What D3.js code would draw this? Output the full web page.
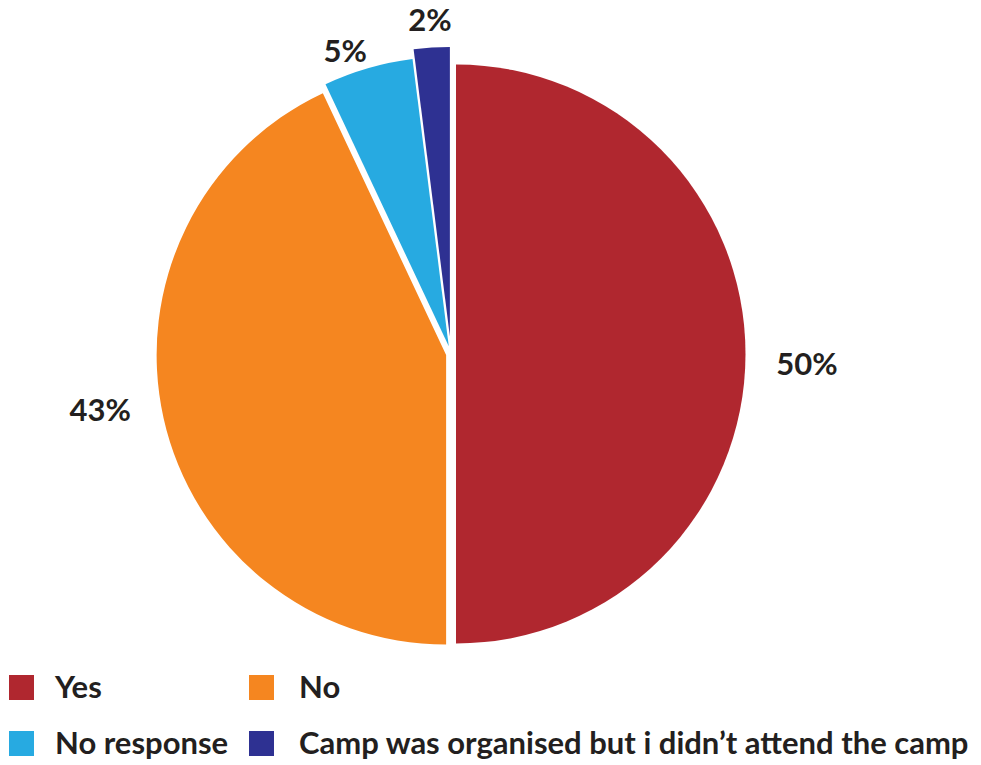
<!DOCTYPE html>
<meta charset="utf-8">
<script src="https://d3js.org/d3.v7.min.js"></script>
<style>
    body { margin: 0; background: #fff; }
    text { font-family: Lato, "Open Sans", sans-serif; font-weight: bold; fill: #231F20; }
</style>
<svg width="981" height="765"></svg>
<script>

    const categories = ["Yes", "No", "No response", "Camp was organised but i didn\u2019t attend the camp"];
    const values = [50, 43, 5, 2];
    const percentLabels = ["50%", "43%", "5%", "2%"];
    const colors = ["#B0272F", "#F58620", "#27AAE1", "#2E3192"];

    // how far each slice is pulled out from the middle
    const explode = [5, 5, 8, 17.5];
    // label placement: distance from the middle and a small turn off the slice's mid angle (degrees)
    const labelRadius = [356, 355, 322, 336];
    const labelTurn = [1.5, 3.7, -3, 0];

    function pie_chart() {
        const width = 981,
            height = 765,
            cx = 451,
            cy = 354,
            radius = 289.5;

        const svg = d3.select('svg')
            .attr('width', width)
            .attr('height', height);

        const slices = d3.pie()
            .sort(null)
            .value(d => d)(values);

        const arc = d3.arc()
            .innerRadius(0)
            .outerRadius(radius);

        function polar(a, r) {
            return [Math.sin(a) * r, -Math.cos(a) * r];
        }
        const mid = d => (d.startAngle + d.endAngle) / 2;

        const g = svg.append('g')
            .attr('transform', 'translate(' + cx + ',' + cy + ')');

        g.selectAll('path')
            .data(slices)
            .enter().append('path')
            .attr('d', arc)
            .attr('fill', (d, i) => colors[i])
            .attr('transform', (d, i) => {
                const o = polar(mid(d), explode[i]);
                return 'translate(' + o[0] + ',' + o[1] + ')';
            });

        g.selectAll('text.pct')
            .data(slices)
            .enter().append('text')
            .attr('class', 'pct')
            .attr('text-anchor', 'middle')
            .attr('dominant-baseline', 'central')
            .attr('x', (d, i) => polar(mid(d) + labelTurn[i] * Math.PI / 180, labelRadius[i])[0])
            .attr('y', (d, i) => polar(mid(d) + labelTurn[i] * Math.PI / 180, labelRadius[i])[1])
            .style('font-size', '31px')
            .text((d, i) => percentLabels[i]);

        // legend, two columns
        const colX = [9, 249],
            textGap = [46, 50],
            rowY = [675, 731],
            box = 25;

        const legend = svg.selectAll('g.legend')
            .data(categories)
            .enter().append('g')
            .attr('class', 'legend')
            .attr('transform', (d, i) => 'translate(' + colX[i % 2] + ',' + rowY[Math.floor(i / 2)] + ')');

        legend.append('rect')
            .attr('width', box)
            .attr('height', box)
            .attr('fill', (d, i) => colors[i]);

        legend.append('text')
            .attr('x', (d, i) => textGap[i % 2])
            .attr('y', box - 2)
            .style('font-size', '31px')
            .text(d => d);
    }

    pie_chart();

</script>
